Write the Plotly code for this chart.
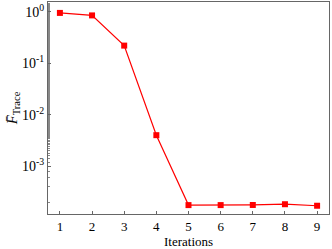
import plotly.graph_objects as go

iterations = [1, 2, 3, 4, 5, 6, 7, 8, 9]
f_trace = [0.95, 0.85, 0.22, 0.0040, 1.75e-4, 1.75e-4, 1.76e-4, 1.82e-4, 1.70e-4]
y_tickvals = [1, 0.1, 0.01, 0.001]
y_ticktext = ["10<sup>0</sup>", "10<sup>-1</sup>", "10<sup>-2</sup>", "10<sup>-3</sup>"]
x_ticks = [1, 2, 3, 4, 5, 6, 7, 8, 9]

fig = go.Figure()
fig.add_trace(go.Scatter(
    x=iterations, y=f_trace, mode="lines+markers",
    line=dict(color="#ff0000", width=1.2),
    marker=dict(symbol="square", size=6, color="#ff0000"),
    showlegend=False,
))

font = "Liberation Serif, Times New Roman, serif"
fig.update_layout(
    width=332, height=249,
    margin=dict(l=48, r=3, t=2, b=35),
    paper_bgcolor="white", plot_bgcolor="white",
    font=dict(family=font, color="black", size=12),
)
fig.update_xaxes(
    range=[0.63, 9.37], tickvals=x_ticks, ticks="inside", ticklen=3,
    tickcolor="#666", showline=True, linecolor="#666", linewidth=1, mirror=True,
    showgrid=False, zeroline=False, tickfont=dict(size=13),
    title=dict(text="Iterations", font=dict(size=13), standoff=2),
)
fig.update_yaxes(
    type="log", range=[-3.93, 0.19], tickvals=y_tickvals, ticktext=y_ticktext,
    ticks="inside", ticklen=3, tickcolor="#666",
    minor=dict(ticks="inside", ticklen=2, tickcolor="#888", showgrid=False),
    showline=True, linecolor="#666", linewidth=1, mirror=True,
    showgrid=False, zeroline=False, tickfont=dict(size=14),
    title=dict(text="<i>F̄</i><sub>Trace</sub>", font=dict(size=15), standoff=0),
)
fig.write_html("out.html", config={"displayModeBar": False},
               post_script="document.body.style.margin='0';document.body.style.overflow='hidden';")
